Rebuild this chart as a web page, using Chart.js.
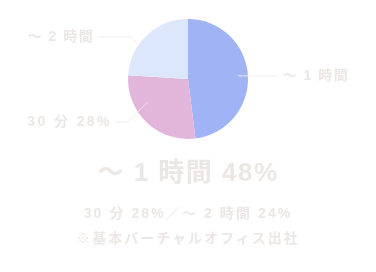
<!DOCTYPE html>
<html>
<head>
<meta charset="utf-8">
<script src="https://cdn.jsdelivr.net/npm/chart.js@4/dist/chart.umd.min.js"></script>
<style>
  html, body { margin: 0; padding: 0; background: #fff; }
  #wrap { position: relative; width: 376px; height: 272px; overflow: hidden; }
  #pie { position: absolute; left: 0; top: 0; }
  .txt { position: absolute; left: 0; width: 376px; text-align: center; color: #ebe7e4;
         font-family: "Liberation Sans", "Noto Sans CJK JP", sans-serif; font-weight: 700; white-space: nowrap; }
  #big { top: 154px; font-size: 26px; line-height: 36px; letter-spacing: 1.5px; }
  #sub { top: 202px; font-size: 14px; line-height: 22px; letter-spacing: 2.1px; }
  #note { top: 227px; font-size: 14px; line-height: 22px; letter-spacing: 2px; }
</style>
</head>
<body>
<div id="wrap">
  <canvas id="pie" width="376" height="272"></canvas>
  <div class="txt" id="big">～ 1 時間 48%</div>
  <div class="txt" id="sub">30 分 28%／～ 2 時間 24%</div>
  <div class="txt" id="note">※基本バーチャルオフィス出社</div>
</div>
<script>
const categories = ["～ 1 時間", "30 分", "～ 2 時間"];
const shares = [48, 28, 24];
const sliceLabels = ["～ 1 時間", "30 分 28%", "～ 2 時間"];
const sliceColors = ["#9fb3f5", "#e2b6da", "#dde7fb"];

// where each leader line starts inside its slice and how it bends
const leaders = [
  { frac: 0.5,  r: 0.83, diag: [0, 0],    run: 39,  side: "right", spacing: 1.5 },
  { frac: 0.67, r: 0.77, diag: [-20, 20], run: -13, side: "left",  spacing: 2.4 },
  { frac: 0.36, r: 1.03, diag: [-7, -7],  run: -33, side: "left",  spacing: 1.5 }
];

const leaderLabels = {
  id: "leaderLabels",
  afterDraw(chart) {
    let ctx = chart.ctx;
    let meta = chart.getDatasetMeta(0);
    ctx.save();
    ctx.font = "700 14px 'Liberation Sans', 'Noto Sans CJK JP'";
    ctx.textBaseline = "middle";
    meta.data.forEach(function(arc, i){
      let p = arc.getProps(["x", "y", "startAngle", "endAngle", "outerRadius"], true);
      let l = leaders[i];
      let a = p.startAngle + (p.endAngle - p.startAngle) * l.frac;
      let sx = p.x + Math.cos(a) * p.outerRadius * l.r;
      let sy = p.y + Math.sin(a) * p.outerRadius * l.r;
      let ex = sx + l.diag[0], ey = sy + l.diag[1];
      let hx = ex + l.run;
      ctx.strokeStyle = "rgba(240,236,233,0.9)";
      ctx.lineWidth = 1;
      ctx.beginPath();
      ctx.moveTo(sx, sy);
      ctx.lineTo(ex, ey);
      ctx.lineTo(hx, ey);
      ctx.stroke();
      ctx.fillStyle = "#ebe7e4";
      ctx.letterSpacing = l.spacing + "px";
      if (l.side == "right") {
        ctx.textAlign = "left";
        ctx.fillText(sliceLabels[i], hx + 6, ey);
      } else {
        ctx.textAlign = "right";
        ctx.fillText(sliceLabels[i], hx - 3, ey);
      }
    });
    ctx.restore();
  }
};

new Chart(document.getElementById("pie"), {
  type: "pie",
  data: {
    labels: categories,
    datasets: [{
      data: shares,
      backgroundColor: sliceColors,
      borderWidth: 0
    }]
  },
  options: {
    responsive: false,
    animation: false,
    layout: { padding: { top: 19, bottom: 133 } },
    plugins: { legend: { display: false }, tooltip: { enabled: false } }
  },
  plugins: [leaderLabels]
});
</script>
</body>
</html>
